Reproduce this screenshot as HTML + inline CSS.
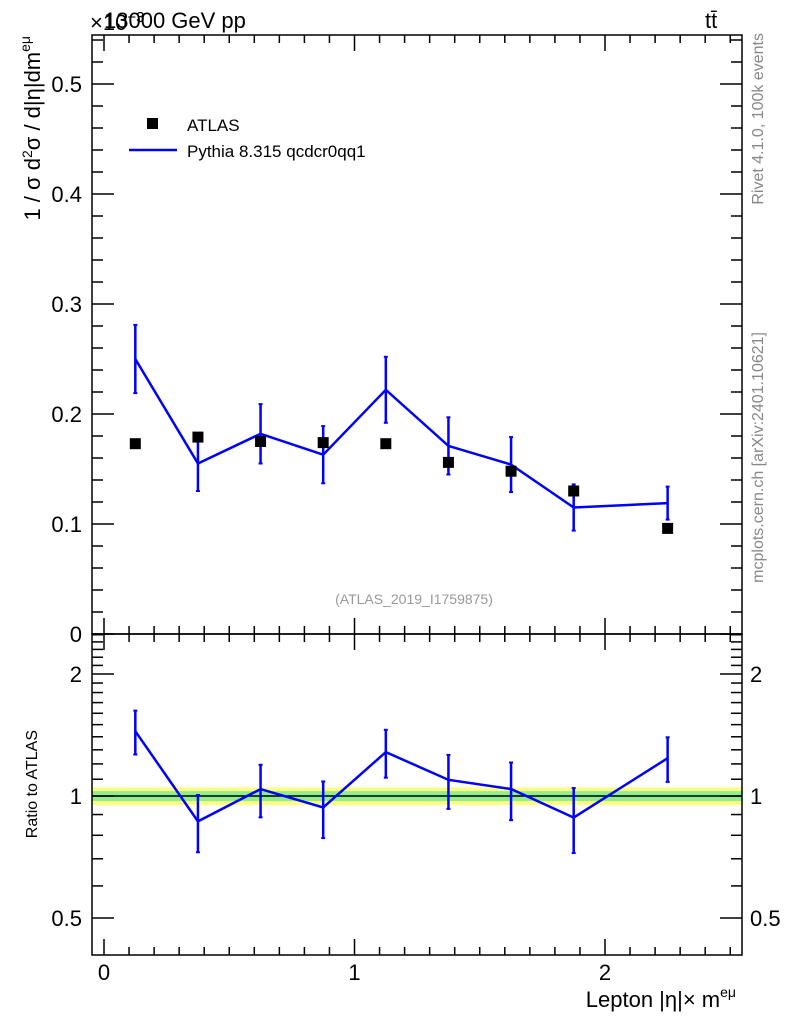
<!DOCTYPE html>
<html><head><meta charset="utf-8"><style>
body{margin:0;background:#fff;}
svg text{font-family:"Liberation Sans",sans-serif;}
</style></head><body>
<svg id="c" width="786" height="1024" xmlns="http://www.w3.org/2000/svg"></svg>
<script>
const binCenters=[0.125,0.375,0.625,0.875,1.125,1.375,1.625,1.875,2.25];
const atlasVals=[0.173,0.179,0.175,0.174,0.173,0.156,0.148,0.130,0.096];
const mcVals=[0.250,0.155,0.182,0.163,0.222,0.171,0.154,0.115,0.119];
const mcErrs=[0.031,0.025,0.027,0.026,0.030,0.026,0.025,0.021,0.015];
const mainTicks=[0,0.1,0.2,0.3,0.4,0.5];
const mainTickLabels=["0","0.1","0.2","0.3","0.4","0.5"];
const ratioTicks=[0.5,1,2];
const ratioTickLabels=["0.5","1","2"];
const xTicks=[0,1,2];
const xTickLabels=["0","1","2"];

const svg=document.getElementById('c');
const NS="http://www.w3.org/2000/svg";
const L=92,R=742,T=35,M=634,B=955;
const X=v=>104+(v)*250.5;
const Y=v=>634-v*1100;
const YR=v=>796-Math.log2(v)*122;
function el(tag,attrs,name,inter,txt){
  const e=document.createElementNS(NS,tag);
  for(const k in attrs)e.setAttribute(k,attrs[k]);
  
  
  if(txt!==undefined)e.innerHTML=txt;
  svg.appendChild(e);return e;
}
el('rect',{x:L,y:YR(1.05),width:R-L,height:YR(0.95)-YR(1.05),fill:'#ffff80'},'ratio-band-yellow',false);
el('rect',{x:L,y:YR(1.028),width:R-L,height:YR(0.972)-YR(1.028),fill:'#90ee90'},'ratio-band-green',false);
el('line',{x1:L,x2:R,y1:YR(1),y2:YR(1),stroke:'#000','stroke-width':1.5},'ratio-unity-line',false);
el('rect',{x:L,y:T,width:R-L,height:M-T,fill:'none',stroke:'#000','stroke-width':1.5},'main-frame',false);
el('rect',{x:L,y:M,width:R-L,height:B-M,fill:'none',stroke:'#000','stroke-width':1.5},'ratio-frame',false);
for(let k=0;k<=25;k++){
  const v=k/10;
  const hh=(k%10===0)?16:8;
  [[T,1],[M,-1],[M,1],[B,-1]].forEach(([y0,d])=>{
    el('line',{x1:X(v),x2:X(v),y1:y0,y2:y0+d*hh,stroke:'#000','stroke-width':1.5},'x-tick',false);
  });
}
xTicks.forEach((v,i)=>el('text',{x:X(v),y:980,'font-size':22,'text-anchor':'middle'},'x-tick-label',false,xTickLabels[i]));
for(let k=0;k<=27;k++){
  const v=k*0.02;
  const hh=(k%5===0)?22:11;
  el('line',{x1:L,x2:L+hh,y1:Y(v),y2:Y(v),stroke:'#000','stroke-width':1.5},'y-tick',false);
  el('line',{x1:R,x2:R-hh,y1:Y(v),y2:Y(v),stroke:'#000','stroke-width':1.5},'y-tick',false);
}
mainTicks.forEach((v,i)=>el('text',{x:82,y:Y(v)+8,'font-size':22,'text-anchor':'end'},'y-tick-label',false,mainTickLabels[i]));
for(let k=4;k<=25;k++){
  const v=k/10;
  const major=ratioTicks.some(t=>Math.abs(t-v)<1e-6);
  const hh=major?22:11;
  if(YR(v)<M||YR(v)>B)continue;
  el('line',{x1:L,x2:L+hh,y1:YR(v),y2:YR(v),stroke:'#000','stroke-width':1.5},'ratio-y-tick',false);
  el('line',{x1:R,x2:R-hh,y1:YR(v),y2:YR(v),stroke:'#000','stroke-width':1.5},'ratio-y-tick',false);
}
ratioTicks.forEach((v,i)=>{
  el('text',{x:82,y:YR(v)+8,'font-size':22,'text-anchor':'end'},'ratio-tick-label',false,ratioTickLabels[i]);
  el('text',{x:750,y:YR(v)+8,'font-size':22},'ratio-tick-label-right',false,ratioTickLabels[i]);
});
let pts=[];
binCenters.forEach((c,i)=>pts.push(X(c)+','+Y(mcVals[i])));
el('polyline',{points:pts.join(' '),fill:'none',stroke:'#0000ff','stroke-width':2.5},'mc-line',false);
binCenters.forEach((c,i)=>{
  const x=X(c),y1=Y(mcVals[i]+mcErrs[i]),y2=Y(mcVals[i]-mcErrs[i]);
  el('line',{x1:x,x2:x,y1:y1,y2:y2,stroke:'#0000ff','stroke-width':2.5},'mc-error-bar',false);
  el('line',{x1:x-2,x2:x+2,y1:y1,y2:y1,stroke:'#0000ff','stroke-width':2},'mc-error-cap',false);
  el('line',{x1:x-2,x2:x+2,y1:y2,y2:y2,stroke:'#0000ff','stroke-width':2},'mc-error-cap',false);
});
binCenters.forEach((c,i)=>el('rect',{x:X(c)-5.5,y:Y(atlasVals[i])-5.5,width:11,height:11,fill:'#000'},'atlas-point',false));
pts=[];
binCenters.forEach((c,i)=>pts.push(X(c)+','+YR(mcVals[i]/atlasVals[i])));
el('polyline',{points:pts.join(' '),fill:'none',stroke:'#0000ff','stroke-width':2.5},'ratio-mc-line',false);
binCenters.forEach((c,i)=>{
  const r=mcVals[i]/atlasVals[i],e=mcErrs[i]/atlasVals[i];
  const x=X(c),y1=YR(r+e),y2=YR(r-e);
  el('line',{x1:x,x2:x,y1:y1,y2:y2,stroke:'#0000ff','stroke-width':2.5},'ratio-error-bar',false);
  el('line',{x1:x-2,x2:x+2,y1:y1,y2:y1,stroke:'#0000ff','stroke-width':2},'ratio-error-cap',false);
  el('line',{x1:x-2,x2:x+2,y1:y2,y2:y2,stroke:'#0000ff','stroke-width':2},'ratio-error-cap',false);
});
el('rect',{x:147,y:118,width:11,height:11,fill:'#000'},'legend-atlas-marker',false);
el('text',{x:187,y:131,'font-size':17},'legend-atlas-label',false,'ATLAS');
el('line',{x1:129,x2:177,y1:150,y2:150,stroke:'#0000ff','stroke-width':2.5},'legend-mc-line',false);
el('text',{x:187,y:157,'font-size':17},'legend-mc-label',false,'Pythia 8.315 qcdcr0qq1');
el('text',{x:90,y:30,'font-size':22},'exponent-label',false,'×10<tspan font-size="15" dy="-8">−3</tspan>');
el('text',{x:104,y:28,'font-size':22},'title-energy',false,'13000 GeV pp');
el('text',{x:705,y:28,'font-size':22},'title-process',false,'tt̄');
el('text',{x:414,y:604,'font-size':14,fill:'#999','text-anchor':'middle'},'analysis-id',false,'(ATLAS_2019_I1759875)');
el('text',{x:0,y:0,'font-size':22,'text-anchor':'end',transform:'translate(40,36) rotate(-90)'},'y-axis-title',false,'1 / σ  d<tspan font-size="14" dy="-8">2</tspan><tspan dy="8">σ / d|η|dm</tspan><tspan font-size="14" dy="-10">eμ</tspan>');
el('text',{x:0,y:0,'font-size':16,'text-anchor':'end',transform:'translate(37,730) rotate(-90)'},'ratio-axis-title',false,'Ratio to ATLAS');
el('text',{x:736,y:1007,'font-size':22,'text-anchor':'end'},'x-axis-title',false,'Lepton |η|× m<tspan font-size="14" dy="-10">eμ</tspan>');
el('text',{x:0,y:0,'font-size':16,fill:'#888','text-anchor':'end',transform:'translate(763,33) rotate(-90)'},'rivet-label',false,'Rivet 4.1.0,  100k events');
el('text',{x:0,y:0,'font-size':16,fill:'#888','text-anchor':'end',transform:'translate(763,332) rotate(-90)'},'mcplots-label',false,'mcplots.cern.ch [arXiv:2401.10621]');
</script>
</body></html>
